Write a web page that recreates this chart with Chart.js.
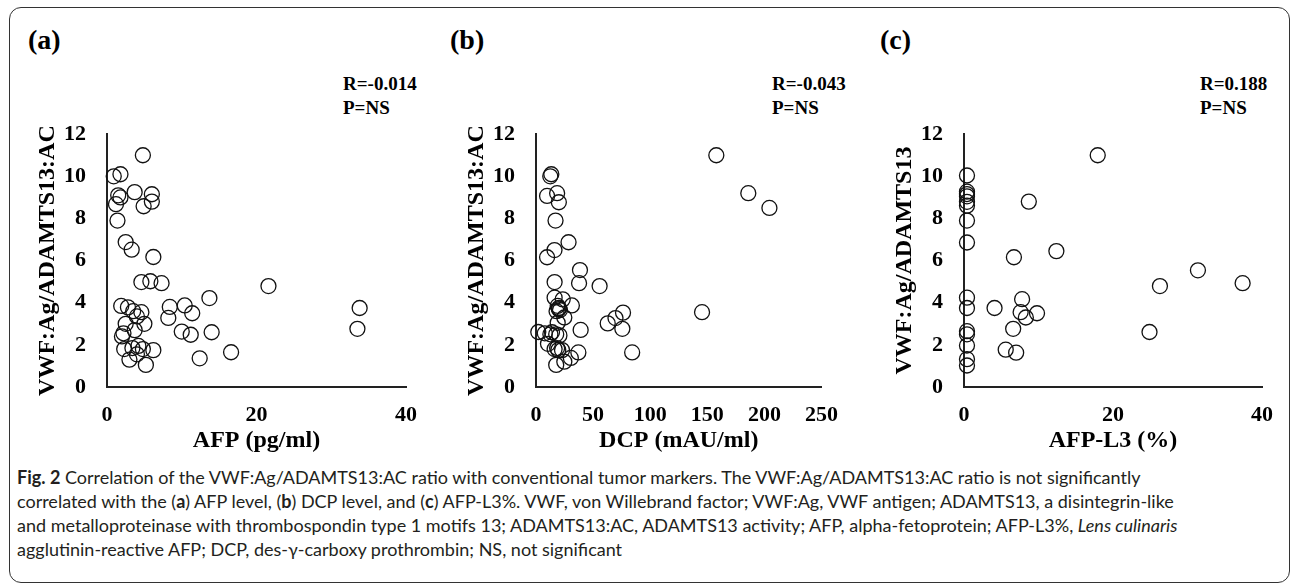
<!DOCTYPE html>
<html>
<head>
<meta charset="utf-8">
<script src="https://cdn.jsdelivr.net/npm/chart.js@4.4.0/dist/chart.umd.min.js"></script>
<style>
  html, body { margin: 0; padding: 0; background: #fff; }
  #wrap { position: relative; width: 1295px; height: 586px; overflow: hidden; }
  .frame {
    position: absolute; left: 9px; top: 7px; width: 1281px; height: 576px;
    box-sizing: border-box; border: 1.5px solid #333; border-radius: 12px;
  }
  canvas { position: absolute; top: 100px; }
  .tag, .stat {
    position: absolute; font-family: "Liberation Serif", serif; font-weight: bold; color: #000;
    white-space: nowrap;
  }
  .tag { font-size: 28px; line-height: 28px; top: 26px; }
  .stat { font-size: 19px; line-height: 24px; top: 72px; }
  .caption {
    position: absolute; left: 17px; top: 465px; color: #231f20;
    font-family: Lato, sans-serif; font-size: 18px; line-height: 24px; white-space: nowrap;
  }
</style>
</head>
<body>
<div id="wrap">
  <div class="frame"></div>

  <div class="tag" style="left:28px">(a)</div>
  <div class="tag" style="left:450px">(b)</div>
  <div class="tag" style="left:880px">(c)</div>

  <div class="stat" style="left:343px">R=-0.014<br>P=NS</div>
  <div class="stat" style="left:772px">R=-0.043<br>P=NS</div>
  <div class="stat" style="left:1200px">R=0.188<br>P=NS</div>

  <canvas id="chartA" width="422" height="360" style="left:10px"></canvas>
  <canvas id="chartB" width="414" height="360" style="left:439px"></canvas>
  <canvas id="chartC" width="421" height="360" style="left:867px"></canvas>

  <div class="caption">
    <b>Fig. 2</b> Correlation of the VWF:Ag/ADAMTS13:AC ratio with conventional tumor markers. The VWF:Ag/ADAMTS13:AC ratio is not significantly<br>
    correlated with the (<b>a</b>) AFP level, (<b>b</b>) DCP level, and (<b>c</b>) AFP-L3%. VWF, von Willebrand factor; VWF:Ag, VWF antigen; ADAMTS13, a disintegrin-like<br>
    and metalloproteinase with thrombospondin type 1 motifs 13; ADAMTS13:AC, ADAMTS13 activity; AFP, alpha-fetoprotein; AFP-L3%, <i>Lens culinaris</i><br>
    agglutinin-reactive AFP; DCP, des-γ-carboxy prothrombin; NS, not significant
  </div>
</div>

<script>
// Panel (a): AFP vs ratio
const afpA = [4.8, 0.9, 1.8, 3.7, 1.5, 1.8, 6.0, 1.2, 4.9, 6.0,
  1.4, 2.5, 3.3, 6.2, 4.6, 5.8, 7.3, 21.6, 33.8, 33.5,
  13.7, 8.4, 8.2, 10.4, 11.4, 10.0, 11.2, 14.0, 12.4, 16.6,
  1.9, 2.8, 3.5, 4.6, 4.0, 2.5, 5.0, 3.7, 2.2, 2.0,
  2.3, 3.4, 4.2, 4.8, 6.2, 3.0, 5.2, 4.0];
const ratioA = [11.0, 10.0, 10.1, 9.25, 9.1, 9.0, 9.15, 8.68, 8.58, 8.8,
  7.9, 6.88, 6.52, 6.17, 4.98, 5.02, 4.93, 4.79, 3.75, 2.76,
  4.22, 3.8, 3.28, 3.87, 3.5, 2.63, 2.48, 2.6, 1.36, 1.65,
  3.85, 3.78, 3.6, 3.55, 3.35, 3.0, 3.0, 2.7, 2.55, 2.4,
  1.8, 1.85, 1.95, 1.8, 1.75, 1.3, 1.05, 1.55];

// Panel (b): DCP vs ratio
const dcpB = [157.9, 185.9, 204.4, 145.4, 13.4, 12.5, 9.7, 18.5, 20.0, 17.1,
  28.5, 16.2, 9.7, 38.5, 37.7, 55.7, 16.3, 16.3, 23.4, 31.4,
  19.0, 20.0, 18.0, 24.8, 62.8, 69.6, 76.2, 75.6, 39.1, 2.0,
  7.7, 12.6, 17.7, 20.5, 10.5, 16.3, 19.5, 22.8, 37.1, 84.2,
  30.5, 24.8, 17.7, 20.0, 21.0, 18.5, 14.0, 19.0];
const ratioB = [11.0, 9.2, 8.5, 3.55, 10.1, 10.0, 9.07, 9.2, 8.77, 7.9,
  6.87, 6.5, 6.16, 5.55, 4.93, 4.79, 4.98, 4.24, 4.16, 3.87,
  3.85, 3.75, 3.6, 3.3, 3.02, 3.27, 3.53, 2.76, 2.71, 2.61,
  2.55, 2.5, 2.5, 2.45, 2.05, 1.8, 1.75, 1.75, 1.64, 1.64,
  1.38, 1.2, 1.05, 3.7, 3.65, 1.85, 2.6, 3.05];

// Panel (c): AFP-L3 vs ratio
const l3C = [17.95, 8.7, 12.4, 6.7, 31.4, 26.3, 37.4, 24.9, 4.1, 7.8,
  7.6, 8.3, 9.8, 6.6, 5.6, 7.0,
  0.4, 0.4, 0.4, 0.4, 0.4, 0.4, 0.4, 0.4, 0.4, 0.4, 0.4, 0.4, 0.4, 0.4, 0.4];
const ratioC = [11.0, 8.8, 6.45, 6.16, 5.54, 4.79, 4.93, 2.61, 3.75, 4.17,
  3.55, 3.3, 3.5, 2.76, 1.77, 1.63,
  10.04, 9.27, 9.16, 9.05, 8.79, 8.61, 7.9, 6.86, 4.24, 3.75, 2.65, 2.5, 1.97, 1.32, 1.02];

// tick labels
const yTicks = [0, 2, 4, 6, 8, 10, 12];
const xTicksA = [0, 20, 40];
const xTicksB = [0, 50, 100, 150, 200, 250];
const xTicksC = [0, 20, 40];

const serif = '"Liberation Serif", "Times New Roman", serif';
Chart.defaults.color = '#000';

function makePanel(id, xs, ys, xTicks, xTitle, yTitle) {
  const ctx = document.getElementById(id).getContext('2d');
  const pts = xs.map((x, i) => ({ x: x, y: ys[i] }));
  return new Chart(ctx, {
    type: 'scatter',
    data: {
      datasets: [{
        data: pts,
        pointStyle: 'circle',
        pointRadius: 7.5,
        pointBorderWidth: 1.3,
        borderColor: '#111',
        backgroundColor: 'rgba(0,0,0,0)',
        clip: false
      }]
    },
    options: {
      responsive: false,
      animation: false,
      events: [],
      layout: { padding: { top: 17, right: 25, left: 0, bottom: 0 } },
      plugins: { legend: { display: false }, tooltip: { enabled: false } },
      scales: {
        x: {
          type: 'linear',
          min: xTicks[0],
          max: xTicks[xTicks.length - 1],
          afterBuildTicks: s => { s.ticks = xTicks.map(v => ({ value: v })); },
          afterFit: s => { s.height = 73; },
          grid: { display: false, drawTicks: false },
          border: { display: true, color: '#222', width: 2 },
          ticks: { padding: 15, color: '#000', maxRotation: 0,
            font: { family: serif, weight: 'bold', size: 22 } },
          title: { display: true, text: xTitle, color: '#000',
            font: { family: serif, weight: 'bold', size: 24 }, padding: { top: 0, bottom: 5 } }
        },
        y: {
          type: 'linear',
          min: 0,
          max: 12,
          afterBuildTicks: s => { s.ticks = yTicks.map(v => ({ value: v })); },
          afterFit: s => { s.width = 97; },
          grid: { display: false, drawTicks: false },
          border: { display: true, color: '#222', width: 2 },
          ticks: { padding: 21, color: '#000',
            font: { family: serif, weight: 'bold', size: 22 } },
          title: { display: true, text: yTitle, color: '#000',
            font: { family: serif, weight: 'bold', size: 24 }, padding: { top: 23, bottom: 0 } }
        }
      }
    }
  });
}

makePanel('chartA', afpA, ratioA, xTicksA, 'AFP (pg/ml)', 'VWF:Ag/ADAMTS13:AC');
makePanel('chartB', dcpB, ratioB, xTicksB, 'DCP (mAU/ml)', 'VWF:Ag/ADAMTS13:AC');
makePanel('chartC', l3C, ratioC, xTicksC, 'AFP-L3 (%)', 'VWF:Ag/ADAMTS13');
</script>
</body>
</html>
